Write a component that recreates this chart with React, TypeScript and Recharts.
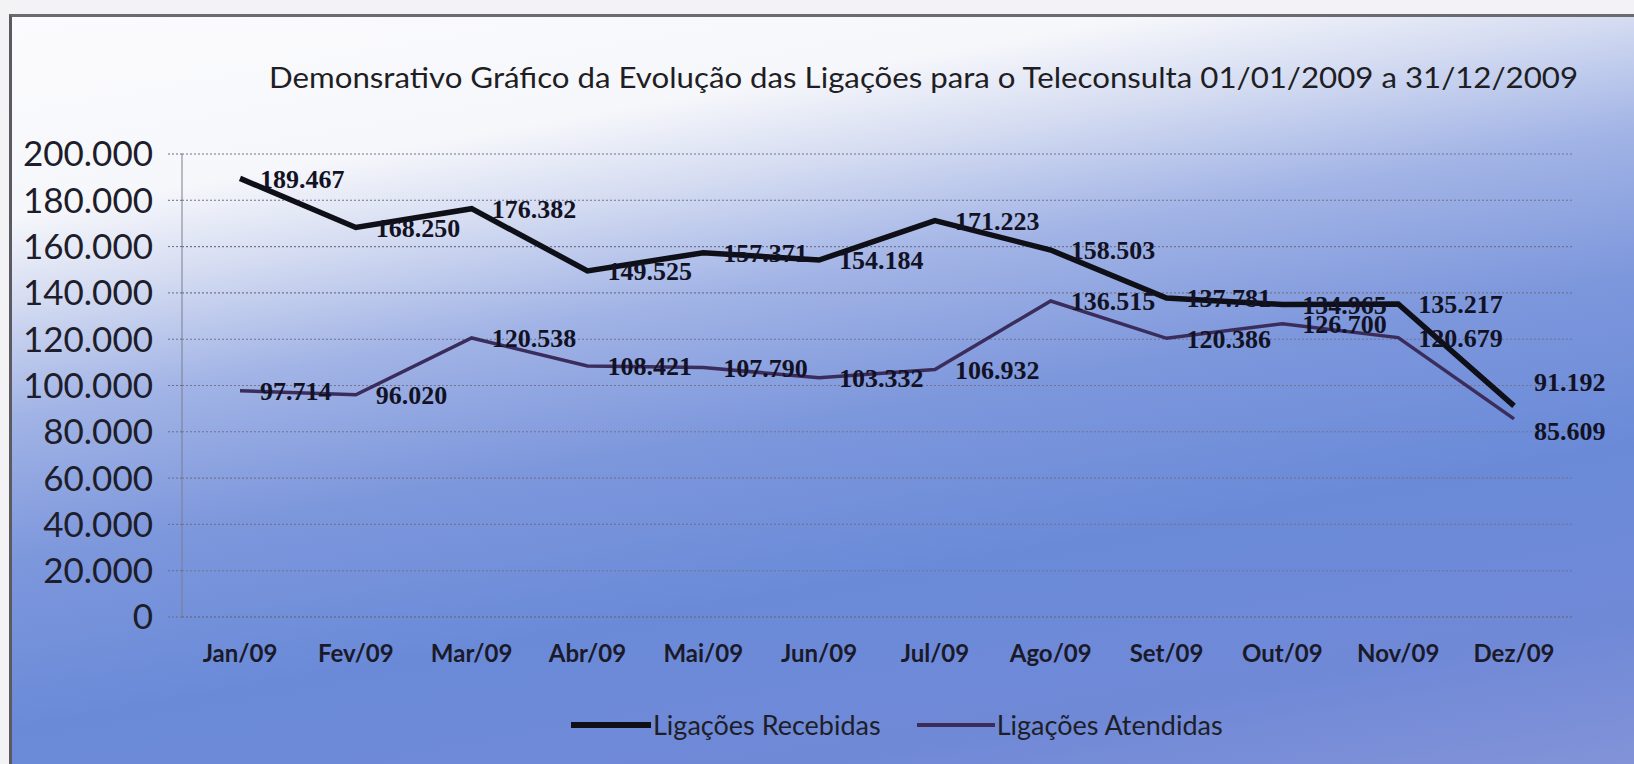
import { LineChart, Line, XAxis, YAxis, CartesianGrid, LabelList } from 'recharts'

// Demonstrativo das ligações para o Teleconsulta 2009
const MESES = ['Jan/09', 'Fev/09', 'Mar/09', 'Abr/09', 'Mai/09', 'Jun/09', 'Jul/09', 'Ago/09', 'Set/09', 'Out/09', 'Nov/09', 'Dez/09']
const RECEBIDAS = [189467, 168250, 176382, 149525, 157371, 154184, 171223, 158503, 137781, 134965, 135217, 91192]
const ATENDIDAS = [97714, 96020, 120538, 108421, 107790, 103332, 106932, 136515, 120386, 126700, 120679, 85609]
const Y_TICKS = [0, 20000, 40000, 60000, 80000, 100000, 120000, 140000, 160000, 180000, 200000]

const TITULO = 'Demonsrativo Gráfico da Evolução das Ligações para o Teleconsulta 01/01/2009 a 31/12/2009'

const data = MESES.map((mes, i) => ({ mes, recebidas: RECEBIDAS[i], atendidas: ATENDIDAS[i] }))

// formato pt-BR sem depender do ICU
const fmt = (v: number) => String(Math.round(v)).replace(/\B(?=(\d{3})+(?!\d))/g, '.')

const FONT = 'Lato, "Open Sans", sans-serif'

// no último mês os rótulos foram afastados à mão no original
const makeLabel = (lastDy: number) => (props: any) => {
  const x = props.x ?? props.viewBox?.x
  const y = props.y ?? props.viewBox?.y
  if (x == null || y == null) return null
  const dy = props.index === MESES.length - 1 ? lastDy : 0
  return (
    <text x={x + 20} y={y + dy} dy="0.36em" fill="#121224" fontSize={26} fontWeight={700} fontFamily='"Liberation Serif", serif'>
      {fmt(props.value)}
    </text>
  )
}

export default function App() {
  return (
    <div style={{ position: 'absolute', left: 0, top: 0, width: 1634, height: 764, overflow: 'hidden', background: '#f3f3f5' }}>
      <div
        style={{
          position: 'absolute',
          left: 9,
          top: 14,
          width: 1640,
          height: 760,
          borderLeft: '3px solid #5a5a60',
          borderTop: '3px solid #6a6a70',
          background:
            'linear-gradient(170deg, #fbfbfd 0%, #f6f7fb 19%, #d6ddf2 27%, #a2b4e6 38%, #7d97dc 52%, #6a8ad8 68%, #7089d7 85%, #8494d8 100%)',
        }}
      />

      <svg width={1634} height={120} style={{ position: 'absolute', left: 0, top: 0 }}>
        <text x={269} y={88} fontSize={28} fontFamily={FONT} fill="#1e1e24" textLength={1309} lengthAdjust="spacingAndGlyphs">
          {TITULO}
        </text>
      </svg>

      <div style={{ position: 'absolute', left: 0, top: 0 }}>
        <LineChart width={1634} height={764} data={data} margin={{ top: 154, right: 62, bottom: 87, left: 12 }}>
          <CartesianGrid vertical={false} stroke="#727490" strokeDasharray="2 2" strokeWidth={1.1} />
          <XAxis
            dataKey="mes"
            height={60}
            padding={{ left: 58, right: 58 }}
            axisLine={{ stroke: '#6b6d86', strokeDasharray: '2 2' }}
            tickLine={false}
            tickSize={0}
            tickMargin={28}
            interval={0}
            tick={{ fill: '#1a1a2a', fontSize: 24, fontFamily: FONT, fontWeight: 700 }}
          />
          <YAxis
            width={170}
            domain={[0, 200000]}
            ticks={Y_TICKS}
            tickFormatter={fmt}
            axisLine={{ stroke: '#7a7c90' }}
            tickLine={{ stroke: '#6b6d86', strokeDasharray: '2 2' }}
            tickSize={14}
            tickMargin={15}
            tick={{ fill: '#1d1d2b', fontSize: 35, fontFamily: FONT }}
          />
          <Line
            type="linear"
            dataKey="atendidas"
            stroke="#3a2d5c"
            strokeWidth={3.5}
            dot={false}
            activeDot={false}
            isAnimationActive={false}
          >
            <LabelList dataKey="atendidas" content={makeLabel(12)} />
          </Line>
          <Line
            type="linear"
            dataKey="recebidas"
            stroke="#0f0f18"
            strokeWidth={5.5}
            dot={false}
            activeDot={false}
            isAnimationActive={false}
          >
            <LabelList dataKey="recebidas" content={makeLabel(-24)} />
          </Line>
        </LineChart>
      </div>

      {/* legenda */}
      <div
        style={{
          position: 'absolute',
          left: 571,
          top: 708,
          display: 'flex',
          alignItems: 'center',
          fontFamily: FONT,
          fontSize: 27,
          color: '#1e1e28',
          whiteSpace: 'nowrap',
        }}
      >
        <span style={{ display: 'inline-block', width: 80, height: 6, background: '#0f0f18' }} />
        <span style={{ marginLeft: 2 }}>Ligações Recebidas</span>
        <span style={{ display: 'inline-block', width: 78, height: 4, background: '#3a2d5c', marginLeft: 36 }} />
        <span style={{ marginLeft: 2 }}>Ligações Atendidas</span>
      </div>
    </div>
  )
}
